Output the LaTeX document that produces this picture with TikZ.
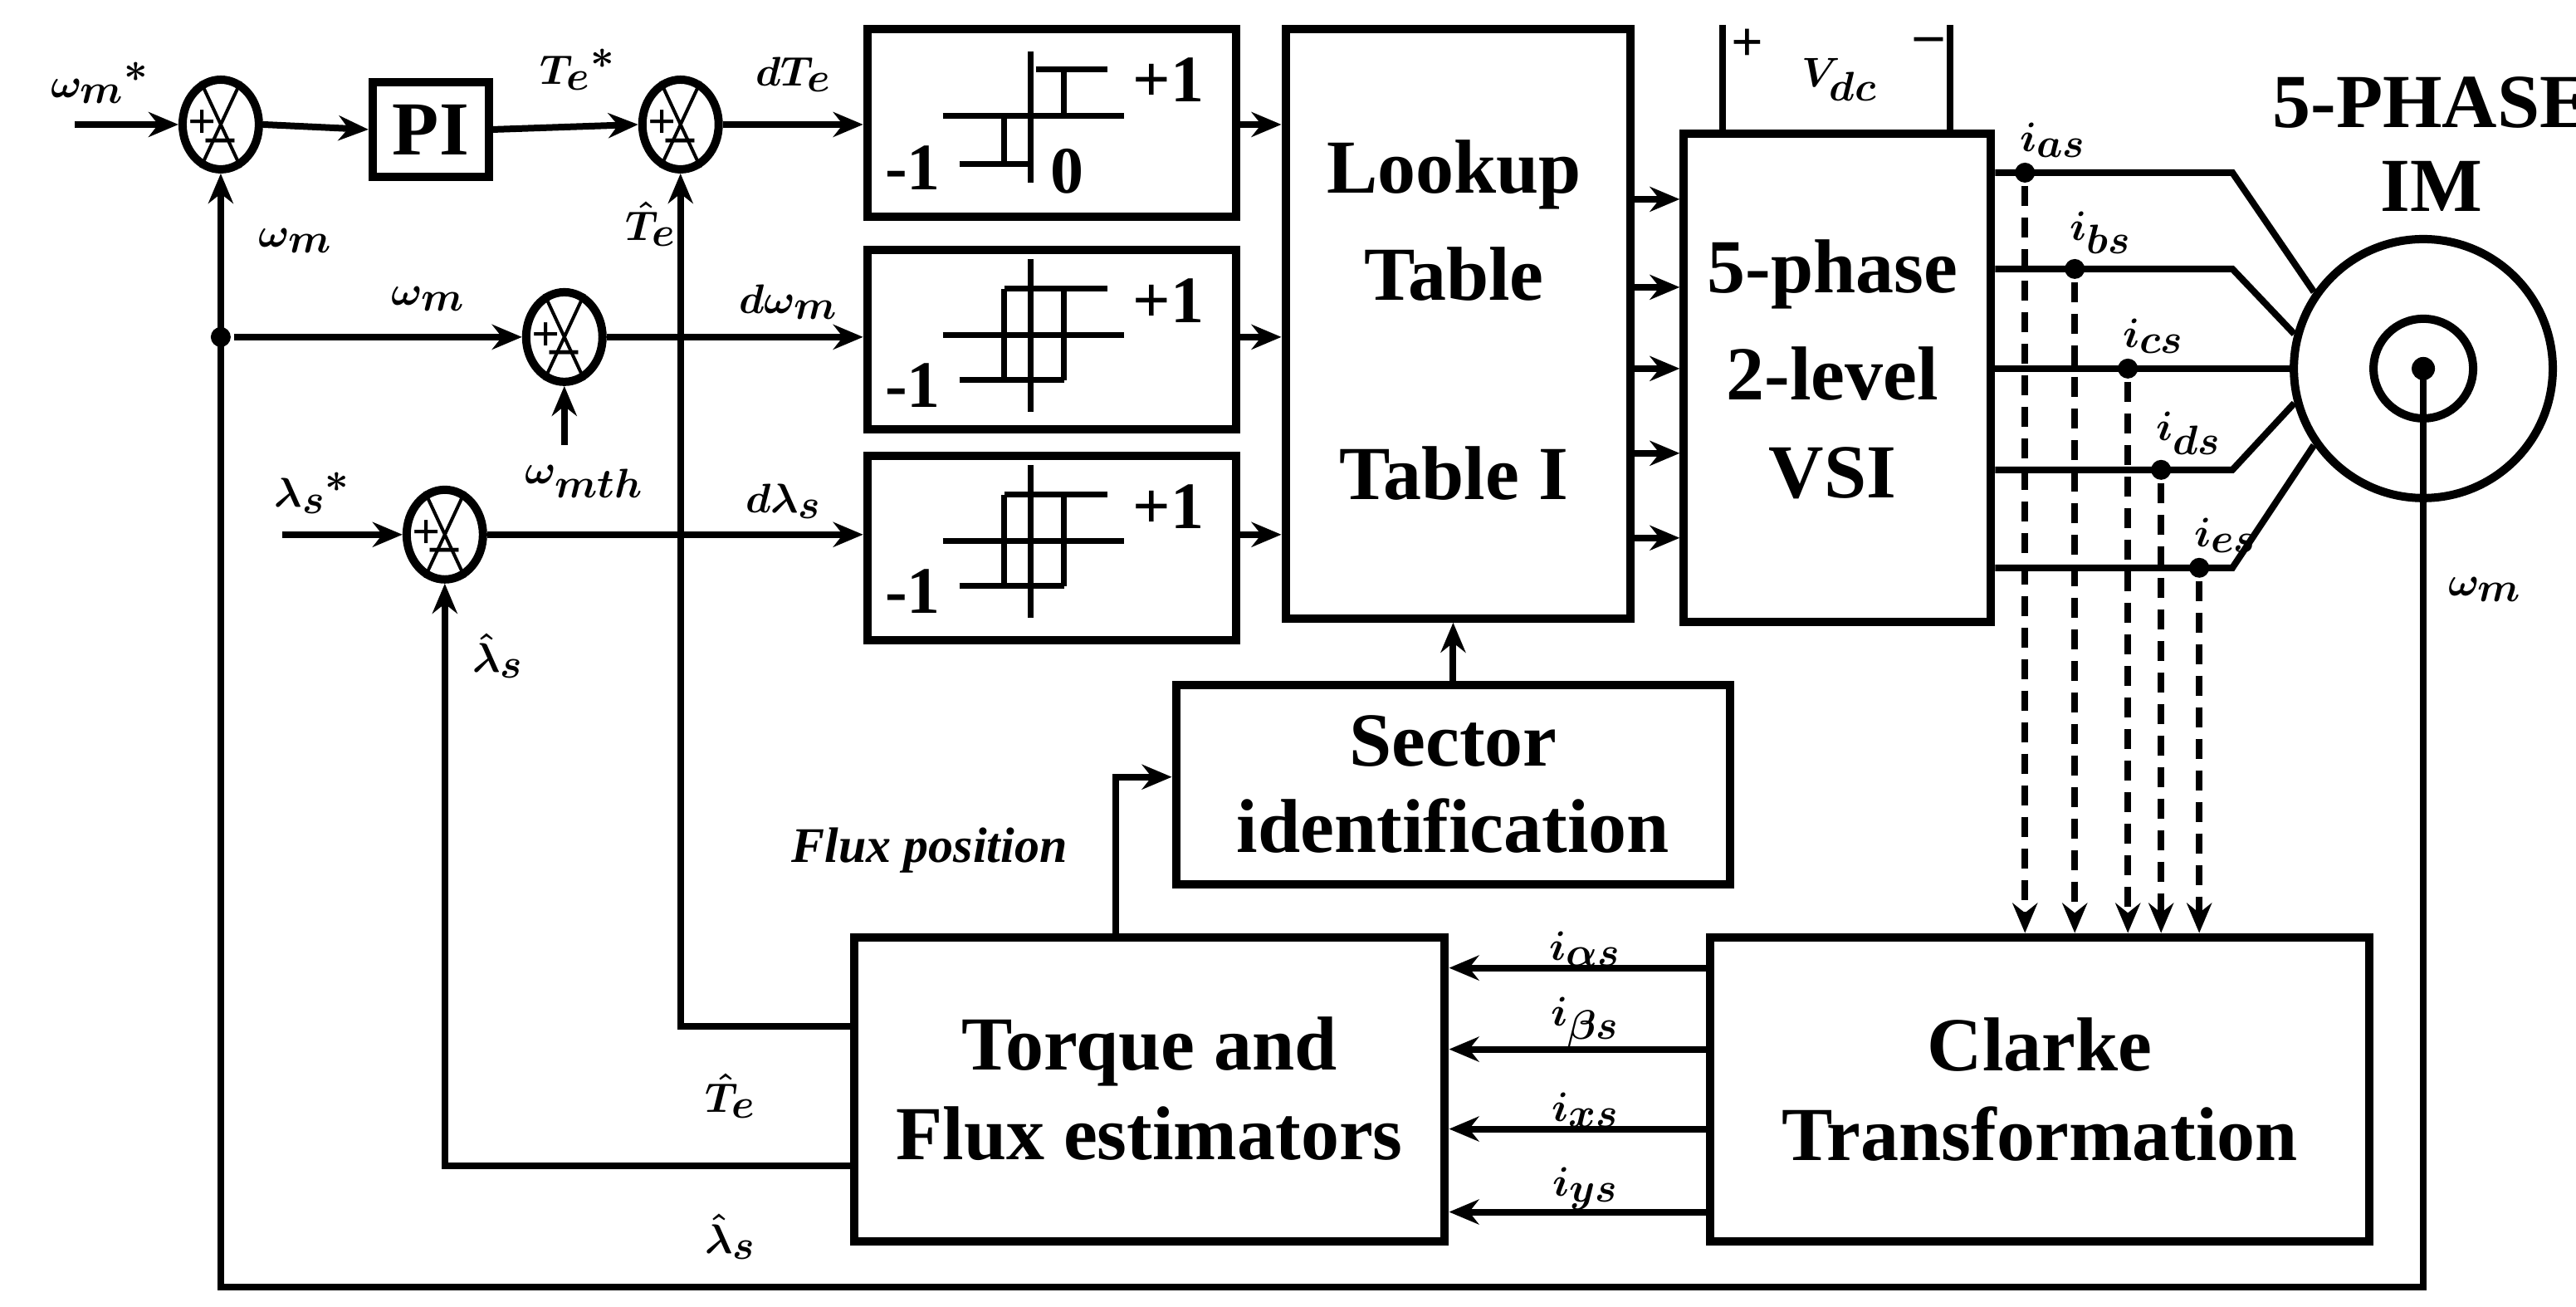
\documentclass[tikz,border=0pt]{standalone}
\usepackage{fontspec}
\setmainfont{Liberation Serif}
\usepackage{amsmath}
\usetikzlibrary{arrows.meta,shapes.geometric}
\begin{document}
\begin{tikzpicture}[x=1pt,y=-1pt,line width=4pt,
  >={Stealth[length=18pt,width=15pt]},
  box/.style={draw,line width=5pt,anchor=north west,inner sep=0},
  sumj/.style={draw,ellipse,line width=5pt,minimum width=46pt,minimum height=54pt,inner sep=0},
  lbl/.style={font=\fontsize{40}{42}\selectfont\bfseries\boldmath,inner sep=1pt},
  hl/.style={font=\fontsize{40}{42}\selectfont\bfseries,inner sep=1pt},
  txt/.style={font=\fontsize{46}{48}\selectfont\bfseries,align=center},
  dot/.style={circle,fill,inner sep=0,minimum size=12pt}]
\useasboundingbox (0,0) rectangle (1552,787);
% summing junctions
\foreach \n/\x/\y in {s1/133/75, s2/410/75, s4/340/203, s3/268/322}{
  \node[sumj] (\n) at (\x,\y) {};
  \draw[line width=2pt] (\n.115)--(\n.-65) (\n.65)--(\n.-115);
  \node[font=\fontsize{30}{30}\selectfont\bfseries,inner sep=0] at ([xshift=-11pt]\n.center) {+};
  \node[font=\fontsize{34}{34}\selectfont\bfseries,inner sep=0] at ([yshift=-13pt]\n.center) {\textendash};
}
% PI
\node[box,minimum width=70pt,minimum height=57pt] (pi) at (222,47) {};
\node[txt] at (pi.center) {PI};
% hysteresis boxes
\newcommand{\hystA}[1]{\begin{scope}[shift={#1}]
 \draw[line width=3.5pt] (101,16)--(101,95) (48,55)--(157,55) (104,27)--(147,27) (121,27)--(121,55)
   (58,84)--(101,84) (85,55)--(85,84);
 \node[hl] at (184,33) {+1}; \node[hl] at (30,86) {-1}; \node[hl] at (123,88) {0};
\end{scope}}
\newcommand{\hystB}[1]{\begin{scope}[shift={#1}]
 \draw[line width=3.5pt] (101,8)--(101,100) (48,54)--(157,54) (85,26)--(147,26) (58,81)--(121,81)
   (85,26)--(85,81) (121,26)--(121,81);
 \node[hl] at (184,33) {+1}; \node[hl] at (30,84) {-1};
\end{scope}}
\node[box,minimum width=222pt,minimum height=113pt] (h1) at (520,15) {};
\node[box,minimum width=222pt,minimum height=108pt] (h2) at (520,148) {};
\node[box,minimum width=222pt,minimum height=111pt] (h3) at (520,272) {};
\hystA{(520,15)}\hystB{(520,148)}\hystB{(520,272)}
% lookup
\node[box,minimum width=208pt,minimum height=355pt] (lt) at (772,15) {};
\node[txt] at (876,105) {Lookup}; \node[txt] at (876,165) {Table}; \node[txt] at (876,285) {Table I};
% VSI
\node[box,minimum width=185pt,minimum height=294pt] (vsi) at (1012,78) {};
\node[txt] at (1104,165) {5-phase}; \node[txt] at (1104,225) {2-level}; \node[txt] at (1104,285) {VSI};
\coordinate (vp) at (1038,15); \coordinate (vm) at (1175,15);
\draw (vp)--(vp|-vsi.north) (vm)--(vm|-vsi.north);
\node[font=\fontsize{34}{34}\selectfont\bfseries] at (1053,27) {+};
\node[font=\fontsize{34}{34}\selectfont\bfseries] at (1162,27) {\textendash};
\node[lbl] at (1108,48) {$V_{dc}$};
\foreach \y in {120,173,222,273,324} \draw[->] (980,\y)--(1012,\y);
% motor
\node[draw,circle,line width=5pt,minimum size=156pt,inner sep=0] (m) at (1460,222) {};
\node[draw,circle,line width=5pt,minimum size=60pt,inner sep=0] (mi) at (1460,222) {};
\node[dot,minimum size=14pt] (mc) at (1460,222) {};
\node[txt] at (1465,62) {5-PHASE}; \node[txt] at (1465,112) {IM};
% phases
\foreach \y/\a/\dx/\s in {104/145/1220/as,162/165/1250/bs,222/180/1282/cs,283/195/1302/ds,342/215/1325/es}{
  \draw (vsi.east|-0,\y) -- (1345,\y) -- (m.\a);
  \node[dot] (d\s) at (\dx,\y) {};
  \node[lbl,anchor=south west] at ([xshift=-6pt,yshift=-2pt]d\s.north) {$i_{\s}$};
}
% Clarke and estimator
\node[box,minimum width=397pt,minimum height=183pt] (cl) at (1028,562) {};
\node[txt] at (cl.center) {Clarke\\[6pt]Transformation};
\node[box,minimum width=356pt,minimum height=183pt] (te) at (512,562) {};
\node[txt] at (te.center) {Torque and\\[6pt]Flux estimators};
\foreach \s in {as,bs,cs,ds,es} \draw[->,dash pattern=on 12pt off 7pt] (d\s) -- (d\s|-cl.north);
\foreach \y/\l in {583/\alpha,632/\beta,680/x,730/y}{
  \draw[->] (cl.west|-0,\y) -- (te.east|-0,\y);
  \node[lbl,anchor=south] at (955,\y+2) {$i_{\l s}$};
}
% sector
\node[box,minimum width=334pt,minimum height=120pt] (sec) at (706,410) {};
\node[txt] at (sec.center) {Sector\\[4pt]identification};
\draw[->] (sec.north) -- (sec.north|-lt.south);
\coordinate (fp) at (672,468);
\draw[->] (fp|-te.north) -- (fp) -- (sec.west|-fp);
\node[font=\fontsize{30}{32}\selectfont\bfseries\itshape] at (560,512) {Flux position};
% forward paths
\coordinate (win) at (45,75);
\draw[->] (win) -- (s1.west);
\draw[->] (s1.east) -- (pi.west);
\draw[->] (pi.east) -- (s2.west);
\draw[->] (s2.east) -- (h1.west|-s2);
\draw[->] (s4.east) -- (h2.west|-s4);
\draw[->] (s3.east) -- (h3.west|-s3);
\draw[->] (h1.east|-0,75) -- (lt.west|-0,75);
\draw[->] (h2.east|-0,203) -- (lt.west|-0,203);
\draw[->] (h3.east|-0,322) -- (lt.west|-0,322);
\coordinate (lin) at (170,322);
\draw[->] (lin) -- (s3.west);
\coordinate (wth) at (340,268);
\draw[->] (wth) -- (s4.south);
% feedbacks
\node[dot] (j) at (133,203) {};
\draw[->] (j) -- (s4.west);
\draw[->] (mc.center) -- (1460,775) -- (133,775) -- (s1.south);
\draw[->] (te.west|-0,618) -- (410,618) -- (s2.south);
\draw[->] (te.west|-0,702) -- (268,702) -- (s3.south);
% labels
\node[lbl] at (60,50) {$\omega_m{}^{*}$};
\node[lbl] at (178,145) {$\omega_m$};
\node[lbl] at (348,42) {$T_e{}^{*}$};
\node[lbl] at (478,45) {$dT_e$};
\node[lbl] at (392,135) {$\hat{T}_e$};
\node[lbl] at (258,180) {$\omega_m$};
\node[lbl] at (475,182) {$d\omega_m$};
\node[lbl] at (352,290) {$\omega_{mth}$};
\node[lbl] at (188,297) {$\lambda_s{}^{*}$};
\node[lbl] at (472,302) {$d\lambda_s$};
\node[lbl] at (300,395) {$\hat{\lambda}_s$};
\node[lbl] at (440,660) {$\hat{T}_e$};
\node[lbl] at (440,745) {$\hat{\lambda}_s$};
\node[lbl] at (1497,355) {$\omega_m$};
\end{tikzpicture}
\end{document}
